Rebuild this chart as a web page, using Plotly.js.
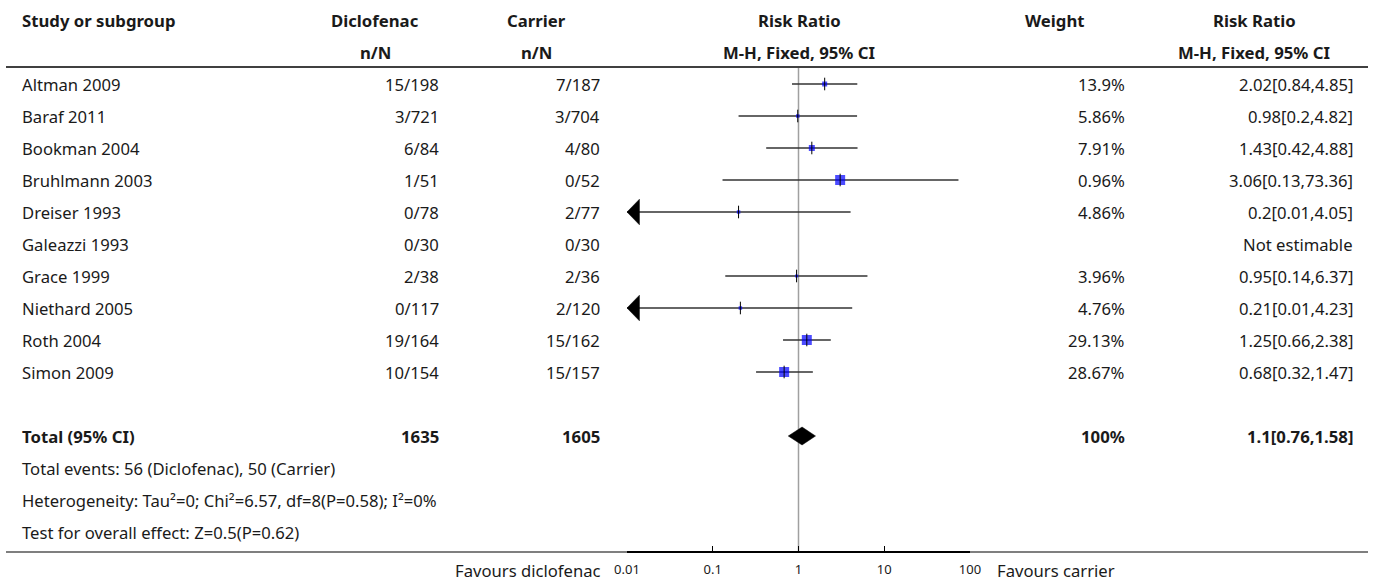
<!DOCTYPE html>
<html>
<head>
<meta charset="utf-8">
<script src="https://cdn.plot.ly/plotly-3.0.1.min.js"></script>
<style>html,body{margin:0;padding:0;background:#fff;}#chart{width:1375px;height:582px;}</style>
</head>
<body>
<div id="chart"></div>
<script>
// ---------- data ----------
const studies = ["Altman 2009","Baraf 2011","Bookman 2004","Bruhlmann 2003","Dreiser 1993","Galeazzi 1993","Grace 1999","Niethard 2005","Roth 2004","Simon 2009"];
const dicloEvents = [15,3,6,1,0,0,2,0,19,10];
const dicloTotal = [198,721,84,51,78,30,38,117,164,154];
const carrierEvents = [7,3,4,0,2,0,2,2,15,15];
const carrierTotal = [187,704,80,52,77,30,36,120,162,157];
const weights = [13.9,5.86,7.91,0.96,4.86,null,3.96,4.76,29.13,28.67];
const rr = [2.02,0.98,1.43,3.06,0.2,null,0.95,0.21,1.25,0.68];
const rrLow = [0.84,0.2,0.42,0.13,0.01,null,0.14,0.01,0.66,0.32];
const rrHigh = [4.85,4.82,4.88,73.36,4.05,null,6.37,4.23,2.38,1.47];
const totalWeight = 100;
const totalRR = 1.1, totalLow = 0.76, totalHigh = 1.58;
const heterogeneity = "Heterogeneity: Tau\u00b2=0; Chi\u00b2=6.57, df=8(P=0.58); I\u00b2=0%";
const overallEffect = "Test for overall effect: Z=0.5(P=0.62)";
const tickVals = [0.01,0.1,1,10,100];
const tickLabels = ["0.01","0.1","1","10","100"];

// ---------- style ----------
const boxPx = [5,3.5,6,10,3.5,0,3,3.5,10,10];
const FONT = "Noto Sans";
const TXT = "#1a1a1a";
const W = 1375, H = 582;
const px = v => v / W;
const LEFT = 21;

// fit font sizes to the reference text widths
function fitSize(text, weight, targetW, fallback) {
  try {
    const c = document.createElement("canvas").getContext("2d");
    c.font = weight + " 100px '" + FONT + "'";
    const w = c.measureText(text).width;
    if (!w) return fallback;
    const s = 100 * targetW / w;
    return (s > 10 && s < 20) ? s : fallback;
  } catch (e) { return fallback; }
}
const FS = fitSize(heterogeneity, "normal", 415, 14.5);
const FSB = fitSize("M-H, Fixed, 95% CI", "bold", 152, 14.5);

const axisMinLog = -2, axisMaxLog = 2;
const axMin = Math.pow(10, axisMinLog), axMax = Math.pow(10, axisMaxLog);

const annotations = [];
function txt(text, xPix, row, anchor, bold, size) {
  annotations.push({
    text: bold ? "<b>" + text + "</b>" : text,
    xref: "paper", yref: "y", x: px(xPix), y: row,
    xanchor: anchor, yanchor: "middle", showarrow: false, borderpad: 0,
    font: {family: FONT, size: size || (bold ? FSB : FS), color: TXT}
  });
}
// headers
txt("Study or subgroup", LEFT, -2, "left", true);
txt("Diclofenac", 375, -2, "center", true);
txt("n/N", 375, -1, "center", true);
txt("Carrier", 536, -2, "center", true);
txt("n/N", 536, -1, "center", true);
txt("Risk Ratio", 799, -2, "center", true);
txt("M-H, Fixed, 95% CI", 799, -1, "center", true);
txt("Weight", 1055, -2, "center", true);
txt("Risk Ratio", 1254, -2, "center", true);
txt("M-H, Fixed, 95% CI", 1254, -1, "center", true);

// study rows
studies.forEach((s, i) => {
  txt(s, LEFT, i, "left", false);
  txt(dicloEvents[i] + "/" + dicloTotal[i], 440, i, "right", false);
  txt(carrierEvents[i] + "/" + carrierTotal[i], 601, i, "right", false);
  if (weights[i] !== null) txt(weights[i] + "%", 1126, i, "right", false);
  txt(rr[i] !== null ? rr[i] + "[" + rrLow[i] + "," + rrHigh[i] + "]" : "Not estimable", 1354, i, "right", false);
});
const sum = a => a.reduce((p, c) => p + c, 0);
const tRow = studies.length + 1;
txt("Total (95% CI)", LEFT, tRow, "left", true);
txt(String(sum(dicloTotal)), 440, tRow, "right", true);
txt(String(sum(carrierTotal)), 601, tRow, "right", true);
txt(totalWeight + "%", 1126, tRow, "right", true);
txt(totalRR + "[" + totalLow + "," + totalHigh + "]", 1354, tRow, "right", true);
txt("Total events: " + sum(dicloEvents) + " (Diclofenac), " + sum(carrierEvents) + " (Carrier)", LEFT, tRow + 1, "left", false);
txt(heterogeneity, LEFT, tRow + 2, "left", false);
txt(overallEffect, LEFT, tRow + 3, "left", false);
const rowOfPix = p => (p - 84) / 32;
txt("Favours diclofenac", 602, rowOfPix(570), "right", false);
txt("Favours carrier", 996, rowOfPix(570), "left", false);

// ---------- traces ----------
const traces = [];
// null line
traces.push({x: [1, 1], y: [rowOfPix(68), rowOfPix(552)], mode: "lines", line: {color: "#a0a0a0", width: 1.5}, hoverinfo: "skip"});
// CI lines
const cx = [], cy = [];
studies.forEach((s, i) => {
  if (rr[i] === null) return;
  cx.push(Math.max(rrLow[i], axMin), Math.min(rrHigh[i], axMax), null);
  cy.push(i, i, null);
});
traces.push({x: cx, y: cy, mode: "lines", line: {color: "#333", width: 1.5}, hoverinfo: "skip"});
// arrows for CIs beyond axis
studies.forEach((s, i) => {
  if (rr[i] === null || rrLow[i] > axMin) return;
  const base = Math.pow(10, axisMinLog + 0.145);
  traces.push({x: [axMin, base, base, axMin], y: [i, i - 0.4, i + 0.4, i], mode: "lines", fill: "toself",
    fillcolor: "#000", line: {color: "#000", width: 0.5}, hoverinfo: "skip"});
});
// squares
const ix = [], iy = [], isz = [];
studies.forEach((s, i) => { if (rr[i] !== null) { ix.push(rr[i]); iy.push(i); isz.push(boxPx[i]); } });
traces.push({x: ix, y: iy, mode: "markers", marker: {symbol: "square", size: isz, color: "#0000ff", line: {width: 0}}, hoverinfo: "skip", cliponaxis: false});
traces.push({x: ix, y: iy, mode: "markers", marker: {symbol: "line-ns", size: 9, line: {color: "#000", width: 1}}, hoverinfo: "skip", cliponaxis: false});
// diamond
traces.push({x: [totalLow, totalRR, totalHigh, totalRR, totalLow], y: [tRow, tRow - 0.28, tRow, tRow + 0.28, tRow],
  mode: "lines", fill: "toself", fillcolor: "#000", line: {color: "#000", width: 0.5}, hoverinfo: "skip"});

// ---------- layout ----------
const layout = {
  width: W, height: H,
  margin: {l: 0, r: 0, t: 0, b: 0},
  paper_bgcolor: "#fff", plot_bgcolor: "rgba(0,0,0,0)",
  showlegend: false,
  xaxis: {
    type: "log", range: [axisMinLog, axisMaxLog],
    domain: [px(627), px(970)], anchor: "free", position: (H - 552) / H,
    tickvals: tickVals, ticktext: tickLabels,
    ticks: "inside", ticklen: 5, tickwidth: 1.2, tickcolor: "#000",
    showline: true, linecolor: "#000", linewidth: 2,
    showgrid: false, zeroline: false, fixedrange: true,
    tickfont: {family: FONT, size: 13, color: TXT}, ticklabelstandoff: 5
  },
  yaxis: {range: [rowOfPix(H), rowOfPix(0)], domain: [0, 1], visible: false, fixedrange: true},
  shapes: [
    {type: "line", xref: "paper", yref: "y", x0: px(6), x1: px(1368), y0: rowOfPix(67), y1: rowOfPix(67), line: {color: "#000", width: 1.5}},
    {type: "line", xref: "paper", yref: "y", x0: px(6), x1: px(1368), y0: rowOfPix(552), y1: rowOfPix(552), line: {color: "#000", width: 1.2}}
  ],
  annotations: annotations
};

Plotly.newPlot("chart", traces, layout, {displayModeBar: false, staticPlot: true});
</script>
</body>
</html>
